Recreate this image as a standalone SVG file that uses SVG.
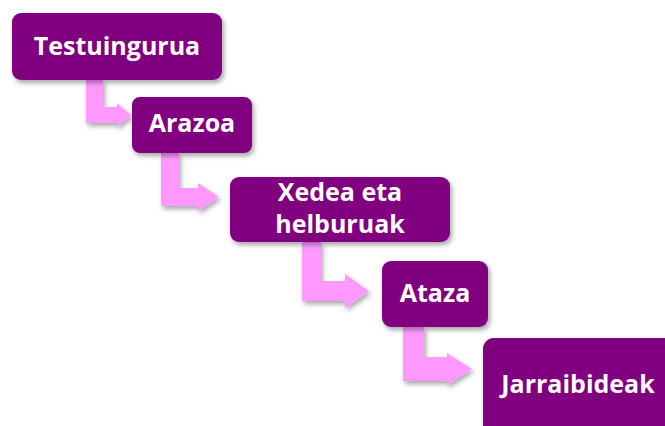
<svg xmlns="http://www.w3.org/2000/svg" width="665" height="426" viewBox="0 0 665 426">
<defs>
<filter id="sh" x="-20%" y="-20%" width="150%" height="150%">
<feDropShadow dx="2" dy="3" stdDeviation="2.5" flood-color="#000" flood-opacity="0.35"/>
</filter>
<style>
.box{fill:#800080;filter:url(#sh)}
.arr{fill:#FF99FF;filter:url(#sh)}
.lbl{font-family:"Open Sans","Liberation Sans",sans-serif;font-weight:bold;font-size:25px;fill:#fff;text-anchor:middle}
</style>
</defs>
<rect width="665" height="426" fill="#fff"/>
<g id="connectors">
<path class="arr" d="M86,80 H103 V107 H117 V103 L131,115 L117,127 V123 H86 Z"/>
<path class="arr" d="M161,153 H179 V188 H198 V183 L219,197 L198,211 V206 H161 Z"/>
<path class="arr" d="M302,242 H321 V281 H345 V274 L369,291 L345,308 V301 H302 Z"/>
<path class="arr" d="M403,327 H424 V357 H447 V353 L472,369 L447,385 V381 H403 Z"/>
</g>
<g id="n1">
<rect class="box" x="12" y="13" width="210" height="67" rx="9"/>
<text class="lbl" x="117" y="55">Testuingurua</text>
</g>
<g id="n2">
<rect class="box" x="132" y="97" width="120" height="56" rx="8"/>
<text class="lbl" x="192" y="132">Arazoa</text>
</g>
<g id="n3">
<rect class="box" x="230" y="177" width="220" height="65" rx="9"/>
<text class="lbl" x="340" y="201">Xedea eta</text>
<text class="lbl" x="340" y="233">helburuak</text>
</g>
<g id="n4">
<rect class="box" x="382" y="261" width="106" height="66" rx="9"/>
<text class="lbl" x="435" y="302">Ataza</text>
</g>
<g id="n5">
<rect class="box" x="483" y="338" width="200" height="100" rx="11"/>
<text class="lbl" x="578" y="393">Jarraibideak</text>
</g>
</svg>
